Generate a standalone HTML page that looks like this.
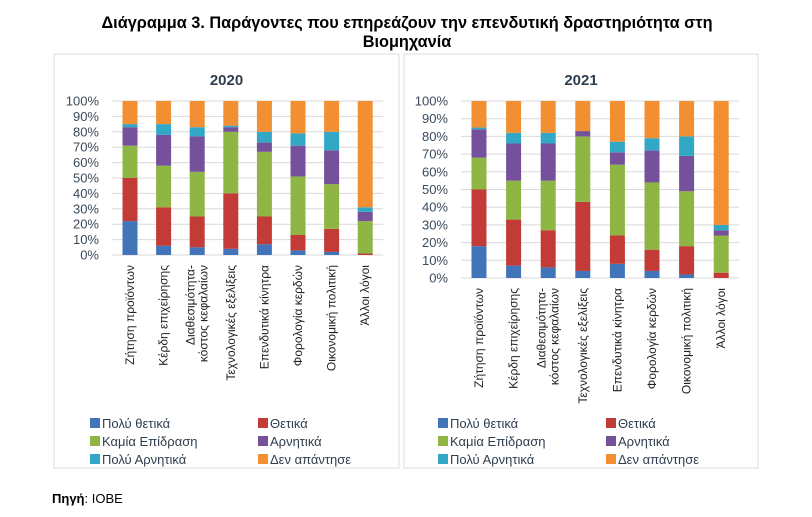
<!DOCTYPE html>
<html><head><meta charset="utf-8">
<style>
body{margin:0;background:#fff;width:812px;height:517px;overflow:hidden;font-family:"Liberation Sans","DejaVu Sans",sans-serif;}
svg{position:absolute;left:0;top:0}
</style></head>
<body>
<svg id="c" width="812" height="517" xmlns="http://www.w3.org/2000/svg">
<text x="407" y="28" text-anchor="middle" font-size="16.3" font-weight="bold" fill="#000">Διάγραμμα 3. Παράγοντες που επηρεάζουν την επενδυτική δραστηριότητα στη</text>
<text x="407" y="47" text-anchor="middle" font-size="16.3" font-weight="bold" fill="#000">Βιομηχανία</text>
<text x="52" y="503" font-size="13" fill="#000"><tspan font-weight="bold">Πηγή</tspan>: IOBE</text>
</svg>
<script>
const categories=["Ζήτηση προϊόντων","Κέρδη επιχείρησης","Διαθεσιμότητα-|κόστος κεφαλαίων","Τεχνολογικές εξελίξεις","Επενδυτικά κίνητρα","Φορολογία κερδών","Οικονομική πολιτική","Άλλοι λόγοι"];
const seriesNames=["Πολύ θετικά","Θετικά","Καμία Επίδραση","Αρνητικά","Πολύ Αρνητικά","Δεν απάντησε"];
const colors=["#4174b8","#c23b36","#8fb545","#74519a","#33a7c6","#f28f32"];
const tickLabels=["0%","10%","20%","30%","40%","50%","60%","70%","80%","90%","100%"];
const v2020_veryPos=[22,6,5,4,7,3,2,0];
const v2020_pos=[28,25,20,36,18,10,15,1];
const v2020_none=[21,27,29,40,42,38,29,21];
const v2020_neg=[12,20,23,3,6,20,22,6];
const v2020_veryNeg=[2,7,6,1,7,8,12,3];
const v2020_noAns=[15,15,17,16,20,21,20,69];
const v2021_veryPos=[18,7,6,4,8,4,2,0];
const v2021_pos=[32,26,21,39,16,12,16,3];
const v2021_none=[18,22,28,37,40,38,31,21];
const v2021_neg=[16,21,21,3,7,18,20,3];
const v2021_veryNeg=[1,6,6,0,6,7,11,3];
const v2021_noAns=[15,18,18,17,23,21,20,70];

const NS="http://www.w3.org/2000/svg";
const svg=document.getElementById('c');
function mk(tag,attrs,parent){const e=document.createElementNS(NS,tag);for(const k in attrs)e.setAttribute(k,attrs[k]);(parent||svg).appendChild(e);return e;}

function panel(cfg){
  const g=mk('g',{});
  
  
  const frame=mk('rect',{x:cfg.px,y:54,width:cfg.pw,height:414,fill:'#fff',stroke:'#d9dde3','stroke-width':1},g);
  
  
  const t=mk('text',{x:cfg.px+cfg.pw/2,y:85,'text-anchor':'middle','font-size':15,'font-weight':'bold',fill:'#2f3e4e'},g);
  t.textContent=cfg.year;
  
  
  const y=v=>cfg.y0-(cfg.y0-cfg.y100)*v/100;
  const x=i=>cfg.x0+i*cfg.step;
  tickLabels.forEach((lab,i)=>{
    const yy=y(i*10);
    const gl=mk('line',{x1:cfg.x0-18,x2:cfg.x0+7*cfg.step+18,y1:yy,y2:yy,stroke:'#d9d9d9','stroke-width':1},g);
    
    
    const tl=mk('text',{x:cfg.x0-31,y:yy+4.5,'text-anchor':'end','font-size':13,fill:'#3b4a5a'},g);
    tl.textContent=lab;
    
    
  });
  const series=cfg.data;
  categories.forEach((c,i)=>{
    let cum=0;
    series.forEach((arr,s)=>{
      const v=arr[i];
      if(v>0){
        const r=mk('rect',{x:x(i)-7.5,y:y(cum+v),width:15,height:y(cum)-y(cum+v),fill:colors[s]},g);
        
        
      }
      cum+=v;
    });
    const parts=c.split('|');
    parts.forEach((p,j)=>{
      const off=(j-(parts.length-1)/2)*13;
      const lx=x(i)+4+off, ly=cfg.y0+10;
      const tx=mk('text',{x:lx,y:ly,'text-anchor':'end','font-size':12,fill:'#222',transform:`rotate(-90 ${lx} ${ly})`},g);
      tx.textContent=p;
      
      
    });
  });
  seriesNames.forEach((n,s)=>{
    const lx=cfg.lx+(s%2)*168, ly=423+Math.floor(s/2)*18;
    const sq=mk('rect',{x:lx-5,y:ly-5,width:10,height:10,fill:colors[s]},g);
    
    
    const lt=mk('text',{x:lx+7,y:ly+5,'font-size':13,fill:'#2f3e4e'},g);
    lt.textContent=n;
    
    
  });
}
panel({year:'2020',px:54,pw:345,x0:130,step:33.6,y0:255,y100:101,lx:95,
  data:[v2020_veryPos,v2020_pos,v2020_none,v2020_neg,v2020_veryNeg,v2020_noAns]});
panel({year:'2021',px:404,pw:354,x0:479,step:34.6,y0:278,y100:101,lx:443,
  data:[v2021_veryPos,v2021_pos,v2021_none,v2021_neg,v2021_veryNeg,v2021_noAns]});
</script>
</body></html>
